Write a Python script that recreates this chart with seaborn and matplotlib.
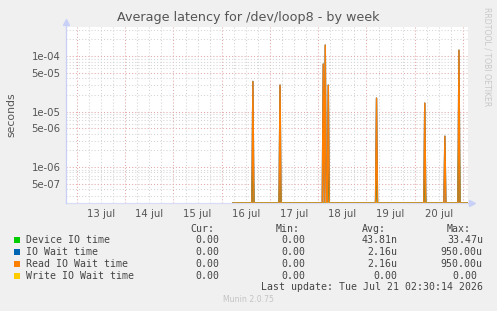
import numpy as np
import pandas as pd
import matplotlib
matplotlib.use("Agg")
import matplotlib.pyplot as plt
import seaborn as sns
from matplotlib.ticker import LogLocator, FixedLocator, NullFormatter, FuncFormatter
from matplotlib.lines import Line2D

# ---------------- data ----------------
series_names = ["Device IO time", "IO Wait time", "Read IO Wait time", "Write IO Wait time"]
series_colors = ["#00CC00", "#0066B3", "#FF8000", "#FFCC00"]

# time in days after 12 jul 00:00
data_start = 4.229   # 16 jul 05:30
data_end = 9.104     # 21 jul 02:30
spike_times = [4.641, 5.213, 6.105, 6.146, 6.208, 7.203, 8.198, 8.633, 8.923]
device_io = [1.2e-6, 7.0e-7, 0.0, 0.0, 1.0e-6, 5.4e-7, 6.0e-7, 0.0, 5.6e-6]
io_wait = [3.5e-5, 3.0e-5, 7.2e-5, 1.58e-4, 3.0e-5, 1.75e-5, 1.42e-5, 3.6e-6, 1.28e-4]
read_wait = [3.5e-5, 3.0e-5, 7.2e-5, 1.58e-4, 3.0e-5, 1.75e-5, 1.42e-5, 3.6e-6, 1.28e-4]
write_wait = [0.0, 0.0, 0.0, 0.0, 0.0, 0.0, 0.0, 0.0, 0.0]

day_labels = ["13 jul", "14 jul", "15 jul", "16 jul", "17 jul", "18 jul", "19 jul", "20 jul"]
x_min, x_max = 0.772, 9.104
y_min, y_max = 2.25e-7, 3.35e-4

cur_vals = ["0.00", "0.00", "0.00", "0.00"]
min_vals = ["0.00", "0.00", "0.00", "0.00"]
avg_vals = ["43.81n", "2.16u", "2.16u", "0.00"]
max_vals = ["33.47u", "950.00u", "950.00u", "0.00 "]
last_update = "Last update: Tue Jul 21 02:30:14 2026"

# ---------------- build series ----------------
step = 1.0 / 48.0
n = int(round((data_end - data_start) / step)) + 1
t = data_start + np.arange(n) * step
frames = []
for name, vals in zip(series_names, [device_io, io_wait, read_wait, write_wait]):
    v = np.zeros(n)
    for st, val in zip(spike_times, vals):
        v[int(round((st - data_start) / step))] = val
    # rrdtool draws zero values on the bottom edge of a log graph
    v = np.maximum(v, y_min)
    frames.append(pd.DataFrame({"t": t, "value": v, "series": name}))
df = pd.concat(frames, ignore_index=True)

# ---------------- figure ----------------
W, H, DPI = 497, 311, 100
sns.set_style("white")
plt.rcParams["font.family"] = ["DejaVu Sans"]
fig = plt.figure(figsize=(W / DPI, H / DPI), dpi=DPI, facecolor="#F0F0F0")

L, T, R, B = 66, 27, 468, 203
ax = fig.add_axes([L / W, 1 - B / H, (R - L) / W, (B - T) / H])
ax.set_facecolor("white")

def fx(x):
    return x / W

def fy(y):
    return 1 - y / H

# grid (drawn first)
major_c = "#E4A8A8"
minor_c = "#D4D4D4"
dash = (0, (1, 2))
for h in np.arange(0, 10.01, 0.25):
    if x_min <= h <= x_max:
        is_mid = abs(h - round(h)) < 1e-6
        ax.axvline(h, color=major_c if is_mid else minor_c, lw=0.75,
                   linestyle=dash, zorder=0)
for e in range(-7, -2):
    for m in range(1, 10):
        yv = m * 10.0 ** e
        if y_min < yv < y_max:
            ax.axhline(yv, color=major_c if m in (1, 5) else minor_c, lw=0.75,
                       linestyle=dash, zorder=0)

palette = dict(zip(series_names, series_colors))
sns.lineplot(data=df, x="t", y="value", hue="series", hue_order=series_names,
             palette=palette, linewidth=1.0, legend=False, estimator=None,
             ax=ax, zorder=3)

ax.set_yscale("log")
ax.set_xlim(x_min, x_max)
ax.set_ylim(y_min, y_max)
ax.set_xlabel("")
ax.set_ylabel("")

ax.yaxis.set_major_locator(LogLocator(base=10, subs=(1.0, 5.0)))
ax.yaxis.set_minor_locator(LogLocator(base=10, subs=(2, 3, 4, 6, 7, 8, 9)))
ax.yaxis.set_major_formatter(FuncFormatter(lambda v, p: "{:.0e}".format(v)))
ax.yaxis.set_minor_formatter(NullFormatter())
ax.tick_params(axis="y", which="major", length=2, width=0.7, color="#bbbbbb",
               labelsize=7.3, labelcolor="#555555", pad=2)
ax.tick_params(axis="y", which="minor", length=0)

midnights = np.arange(1, 10)
noons = np.arange(1, 9) + 0.5
ax.xaxis.set_major_locator(FixedLocator(midnights))
ax.xaxis.set_major_formatter(NullFormatter())
ax.xaxis.set_minor_locator(FixedLocator(noons))
ax.set_xticklabels(day_labels, minor=True)
ax.tick_params(axis="x", which="major", length=2, width=0.7, color=major_c)
ax.tick_params(axis="x", which="minor", length=0, labelsize=7.3,
               labelcolor="#555555", pad=4)

for s in ["top", "right"]:
    ax.spines[s].set_visible(False)
axis_c = "#C8D0F8"
for s in ["left", "bottom"]:
    ax.spines[s].set_color(axis_c)
    ax.spines[s].set_linewidth(0.9)
ax.spines["left"].set_zorder(2)
ax.spines["bottom"].set_zorder(5)
ax.spines["bottom"].set_alpha(0.6)

# axis arrows
fig.add_artist(Line2D([fx(L), fx(L)], [fy(T), fy(24)], color=axis_c, lw=0.9))
fig.add_artist(Line2D([fx(L)], [fy(22)], marker="^", markersize=4.5,
                      color="#C8D0F8", linestyle="none"))
fig.add_artist(Line2D([fx(R), fx(470)], [fy(B), fy(B)], color=axis_c, lw=0.9))
fig.add_artist(Line2D([fx(472)], [fy(B)], marker=">", markersize=4.5,
                      color="#C8D0F8", linestyle="none"))

# titles
fig.text(fx(248), fy(18), "Average latency for /dev/loop8 - by week",
         ha="center", va="center", fontsize=9.2, color="#555555")
fig.text(fx(11), fy(115), "seconds", rotation=90, ha="center", va="center",
         fontsize=7.8, color="#555555")
fig.text(fx(487), fy(57), "RRDTOOL / TOBI OETIKER", rotation=270,
         ha="center", va="center", fontsize=5.6, color="#C8C8C8")

# legend block
mono = "DejaVu Sans Mono"
lfs = 7.1
lc = "#444444"
head_y = 228.5
for x0, lab in zip([190, 275.7, 361.7, 446.7], ["Cur:", "Min:", "Avg:", "Max:"]):
    fig.text(fx(x0), fy(head_y), lab, ha="left", va="center", family=mono,
             fontsize=lfs, color=lc)
row_y = [239.8, 251.8, 263.8, 275.8]
for i, name in enumerate(series_names):
    y = row_y[i]
    fig.patches.append(plt.Rectangle((fx(14), fy(y + 3)), 6 / W, 6 / H,
                                     transform=fig.transFigure,
                                     facecolor=series_colors[i], edgecolor="none"))
    fig.text(fx(26), fy(y), name, ha="left", va="center", family=mono,
             fontsize=lfs, color=lc)
    for xr, val in zip([219.5, 305.2, 397.5, 482.8],
                       [cur_vals[i], min_vals[i], avg_vals[i], max_vals[i]]):
        fig.text(fx(xr), fy(y), val, ha="right", va="center", family=mono,
                 fontsize=lfs, color=lc)
fig.text(fx(482.8), fy(287.5), last_update, ha="right", va="center",
         family=mono, fontsize=lfs, color=lc)
fig.text(fx(248), fy(300), "Munin 2.0.75", ha="center", va="center",
         fontsize=5.6, color="#C4C4C4")

fig.savefig("out.png", dpi=DPI, facecolor=fig.get_facecolor())
